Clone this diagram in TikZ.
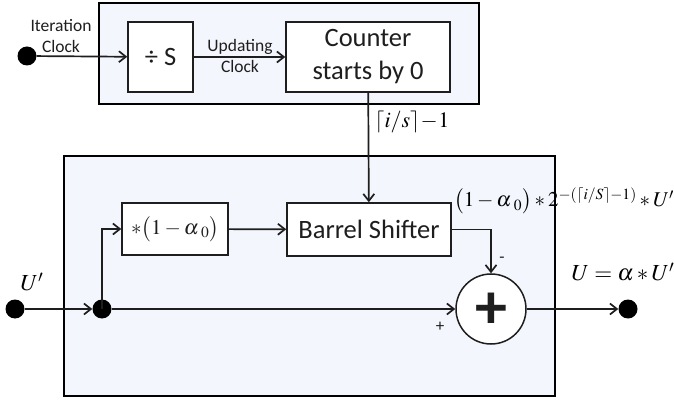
\documentclass[tikz,border=0pt]{standalone}
\usepackage{mathptmx}
\usepackage{fontspec}
\setmainfont{Carlito}
\usetikzlibrary{arrows.meta}
\definecolor{panel}{HTML}{F3F6FC}
\definecolor{ink}{HTML}{1E1E1E}
\newcommand{\alz}{\alpha\mkern2mu_{0}}
\begin{document}
\begin{tikzpicture}[x=1pt,y=-1pt,
  conn/.style={line width=1.7pt, draw=ink, -{Straight Barb[length=7pt,width=11pt,line width=1.7pt]}},
  panelbox/.style={draw=black, line width=1.8pt, fill=panel, inner sep=0pt},
  blk/.style={draw=ink, line width=1.5pt, fill=white, inner sep=0pt, align=center, text=ink, font=\fontsize{26.5}{33}\selectfont},
  dot/.style={circle, fill=black, inner sep=0pt, minimum size=19pt},
  lbl/.style={font=\fontsize{17.5}{21}\selectfont, align=center, text=ink, inner sep=0pt},
  mlbl/.style={inner sep=0pt, font=\fontsize{20}{24}\selectfont},
]
\useasboundingbox (0,0) rectangle (674,403);
% panels
\node[panelbox, minimum width=380pt, minimum height=101pt] (toppanel) at (289,53.5) {};
\node[panelbox, minimum width=491pt, minimum height=240pt] (botpanel) at (309.5,276) {};
% blocks
\node[blk, minimum width=65pt, minimum height=70pt] (div) at (160.5,57) {÷ S};
\node[blk, minimum width=164pt, minimum height=70pt] (counter) at (368,57) {Counter\\starts by 0};
\node[blk, minimum width=106pt, minimum height=52pt, font=\fontsize{21}{24}\selectfont] (mult) at (175,229) {$*\bigl(1-{\alz}\bigr)$};
\node[blk, minimum width=164pt, minimum height=53pt] (barrel) at (369,229.5) {Barrel Shifter};
\node[circle, draw=ink, line width=1.5pt, fill=white, minimum size=70pt, inner sep=0pt] (sum) at (491,309) {};
\node[inner sep=0pt, text=ink, font=\fontsize{64}{64}\selectfont\bfseries] (plus) at (491,311) {+};
% dots
\node[dot] (clk) at (27,56) {};
\node[dot] (uin) at (15,309) {};
\node[dot] (branch) at (102,309) {};
\node[dot] (uout) at (628,309) {};
% connectors
\draw[conn] (clk) -- (div);
\draw[conn] (div) -- (counter);
\draw[conn] (counter) -- (barrel);
\draw[conn] (uin) -- (branch);
\draw[conn] (branch) -- (sum);
\draw[conn] (branch.center) |- (mult);
\draw[conn] (mult) -- (barrel);
\draw[conn] (barrel) -| (sum);
\draw[conn] (sum) -- (uout);
% labels
\node[lbl] (itlbl) at (61,36) {Iteration\\Clock};
\node[lbl] (uplbl) at (240,56) {Updating\\Clock};
\node[mlbl, font=\fontsize{22}{26}\selectfont] (ceil) at (412,122) {$\lceil i/s\rceil\!-\!1$};
\node[mlbl, anchor=west, font=\fontsize{21}{24}\selectfont] (shifted) at (454,201) {$\bigl(1-{\alz}\bigr)*2^{-(\lceil i/S\rceil-1)}*U'$};
\node[mlbl, font=\fontsize{23}{26}\selectfont] (uprime) at (32,282) {$U'$};
\node[mlbl, font=\fontsize{23}{26}\selectfont] (ulabel) at (623,272) {$U=\alpha*U'$};
\node[lbl, font=\fontsize{17}{20}\selectfont] (minus) at (502,260) {-};
\node[lbl, font=\fontsize{17}{20}\selectfont] (plussign) at (440,327) {+};
\end{tikzpicture}
\end{document}
